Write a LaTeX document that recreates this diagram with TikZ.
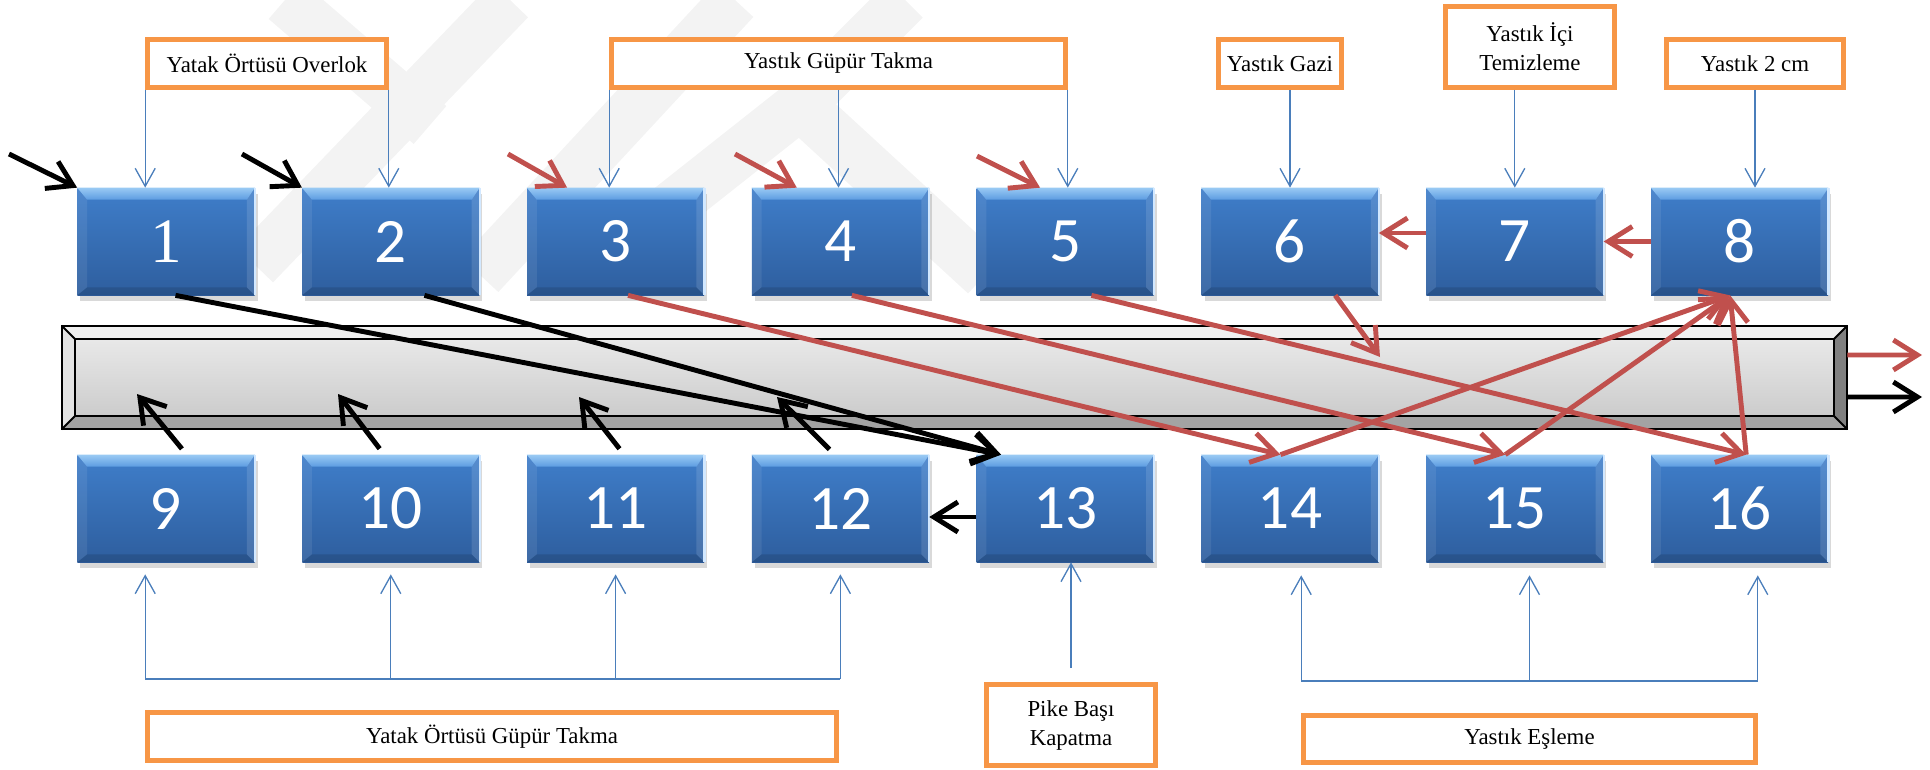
\documentclass[tikz,border=0pt]{standalone}
\usepackage{fontspec}
\setmainfont{Liberation Serif}
\newfontfamily\digitfont{Carlito}
\usetikzlibrary{arrows.meta, calc, shadows}

\definecolor{faceTop}{HTML}{3F7ECA}
\definecolor{faceBot}{HTML}{2E5E9E}
\definecolor{rimTop}{HTML}{9ACAF4}
\definecolor{rimMid}{HTML}{5C9CE1}
\definecolor{rimEdge}{HTML}{D2E8FF}
\definecolor{tagOrange}{HTML}{F79646}
\definecolor{feedBlue}{HTML}{4A7EBB}
\definecolor{flowRed}{HTML}{C0504D}
\definecolor{markGray}{HTML}{F3F3F3}

\tikzset{
  station/.style={minimum width=3.54cm, minimum height=2.14cm, inner sep=0pt,
    top color=faceTop, bottom color=faceBot, text=white,
    font=\digitfont\fontsize{36}{36}\selectfont,
    drop shadow={opacity=0.3, shadow xshift=0.6mm, shadow yshift=-1.2mm}},
  tagbox/.style={draw=tagOrange, line width=2.6pt, fill=white, inner sep=0pt,
    align=center, font=\fontsize{13}{16.5}\selectfont},
  barface/.style={minimum width=35.7cm, minimum height=2.06cm, inner sep=0pt,
    top color=black!7, bottom color=black!22},
  feed/.style={draw=feedBlue, line width=0.75pt, -{Straight Barb[length=3.6mm, width=4mm]}},
  feedbar/.style={draw=feedBlue, line width=1pt},
  blackflow/.style={draw=black, line width=2.8pt, -{Straight Barb[length=4.8mm, width=6mm]}},
  redflow/.style={blackflow, draw=flowRed},
  wmband/.style={draw=markGray, line width=10mm, line cap=butt}
}

\begin{document}
\begin{tikzpicture}[x=0.2mm, y=-0.2mm]
  % Units: 1 = one pixel of the 1930 x 770 sheet, y pointing down.
  \useasboundingbox (0,0) rectangle (1930,770);

  % faint watermark behind everything
  \begin{scope}
    \clip (0,0) rectangle (1930,770);
    \draw[wmband] (285,0) -- (430,125);
    \draw[wmband] (510,0) -- (255,265);
    \draw[wmband] (735,0) -- (480,275);
    \draw[wmband] (585,275) -- (800,105) -- (985,275);
    \draw[wmband] (905,0) -- (800,105);
  \end{scope}

  % line (bevelled bar)
  \node[barface] (bar) at (954.5,377.5) {};
  \fill[black!6] (bar.north west) -- (bar.north east) -- ([shift={(-13,13)}]bar.north east) -- ([shift={(13,13)}]bar.north west) -- cycle;
  \fill[black!11] (bar.north west) -- ([shift={(13,13)}]bar.north west) -- ([shift={(13,-13)}]bar.south west) -- (bar.south west) -- cycle;
  \fill[black!36] (bar.south west) -- ([shift={(13,-13)}]bar.south west) -- ([shift={(-13,-13)}]bar.south east) -- (bar.south east) -- cycle;
  \fill[gray] (bar.north east) -- (bar.south east) -- ([shift={(-13,-13)}]bar.south east) -- ([shift={(-13,13)}]bar.north east) -- cycle;
  \draw[line width=1.1pt] (bar.north west) rectangle (bar.south east);
  \draw[line width=1.1pt] ([shift={(13,13)}]bar.north west) rectangle ([shift={(-13,-13)}]bar.south east);
  \foreach \c/\sx/\sy in {north west/13/13, north east/-13/13, south west/13/-13, south east/-13/-13}
    \draw[line width=1.1pt] (bar.\c) -- ([shift={(\sx,\sy)}]bar.\c);

  % work stations
  \node[station, font=\rmfamily\fontsize{36}{36}\selectfont] (s1) at (166,241.5) {1};
  \foreach \i in {2,...,8}
    \node[station] (s\i) at ({166+(\i-1)*224.8},241.5) {\i};
  \foreach \i in {9,...,16}
    \node[station] (s\i) at ({166+(\i-9)*224.8},508.5) {\i};

  % bevel on every station
  \foreach \i in {1,...,16}{
    \shade[top color=rimTop, bottom color=rimMid] (s\i.north west) -- (s\i.north east) -- ([shift={(-8,12)}]s\i.north east) -- ([shift={(10,12)}]s\i.north west) -- cycle;
    \fill[white, opacity=0.08] (s\i.north west) -- ([shift={(10,12)}]s\i.north west) -- ([shift={(10,-8)}]s\i.south west) -- (s\i.south west) -- cycle;
    \fill[black, opacity=0.12] (s\i.south west) -- ([shift={(10,-8)}]s\i.south west) -- ([shift={(-8,-8)}]s\i.south east) -- (s\i.south east) -- cycle;
    \fill[white, opacity=0.12] (s\i.north east) -- ([shift={(-8,12)}]s\i.north east) -- ([shift={(-8,-8)}]s\i.south east) -- (s\i.south east) -- cycle;
    \draw[rimEdge, line width=1.2pt] (s\i.north east) -- (s\i.south east);
  }

  % operations feeding the stations
  \coordinate (bkL) at (0,679);
  \coordinate (bkR) at (0,681);

  \node[tagbox, minimum width=4.78cm, minimum height=0.96cm] (ovl) at (267,63.5) {Yatak Örtüsü Overlok};
  \node[tagbox, minimum width=9.08cm, minimum height=0.96cm] (ygt) at (838.5,63.5) {Yastık Güpür Takma};
  \node[tagbox, minimum width=2.46cm, minimum height=0.96cm] (gaz) at (1280,63.5) {Yastık Gazi};
  \node[tagbox, minimum width=3.38cm, minimum height=1.62cm] (ici) at (1530,47) {Yastık İçi\\Temizleme};
  \node[tagbox, minimum width=3.54cm, minimum height=0.96cm] (ycm) at (1755,63.5) {Yastık 2 cm};
  \node[tagbox, minimum width=13.78cm, minimum height=0.96cm] (yog) at (492,736.5) {Yatak Örtüsü Güpür Takma};
  \node[tagbox, minimum width=3.38cm, minimum height=1.62cm] (pbk) at (1071,725) {Pike Başı\\Kapatma};
  \node[tagbox, minimum width=9.04cm, minimum height=0.94cm] (esl) at (1529.5,739) {Yastık Eşleme};

  \draw[feed] (ovl.south west) -- (ovl.south west |- s1.north);
  \draw[feed] (ovl.south east) -- (ovl.south east |- s2.north);
  \draw[feed] (ygt.south west) -- (ygt.south west |- s3.north);
  \draw[feed] (ygt.south) -- (ygt.south |- s4.north);
  \draw[feed] (ygt.south east) -- (ygt.south east |- s5.north);
  \draw[feed] (s6.north |- gaz.south) -- (s6.north);
  \draw[feed] (s7.north |- ici.south) -- (s7.north);
  \draw[feed] (ycm.south) -- (ycm.south |- s8.north);

  \draw[feedbar] (yog.north west |- bkL) -- (s12.south |- bkL);
  \draw[feed, shorten >=2.4mm] (yog.north west |- bkL) -- (yog.north west |- s9.south);
  \foreach \i in {10,11,12}
    \draw[feed, shorten >=2.4mm] (s\i.south |- bkL) -- (s\i.south);
  \draw[feed] ($(pbk.north)+(0,-14)$) -- (pbk.north |- s13.south);
  \draw[feedbar] (esl.north west |- bkR) -- (esl.north east |- bkR);
  \foreach \a/\n in {north west/14, north/15, north east/16}
    \draw[feed, shorten >=2.6mm] (esl.\a |- bkR) -- (esl.\a |- s\n.south);

  % material flow
  \coordinate (in1) at (9,154);
  \coordinate (in2) at (242,154);
  \coordinate (in3) at (508,154);
  \coordinate (in4) at (735,154);
  \coordinate (in5) at (977,156);
  \draw[blackflow] (in1) -- (s1.north west);
  \draw[blackflow] (in2) -- (s2.north west);
  \draw[redflow] (in3) -- (s3.132);
  \draw[redflow] (in4) -- (s4.129);
  \draw[redflow] (in5) -- (s5.115);

  \draw[redflow] ([yshift=1.7mm]s7.west) -- ([yshift=1.7mm]s6.east);
  \draw[redflow] (s8.west) -- (s7.east);
  \draw[blackflow] ([yshift=-1.7mm]s13.west) -- ([yshift=-1.7mm]s12.east);

  \draw[blackflow] (s1.280) -- (s13.140);
  \draw[blackflow] (s2.302) -- (s13.140);

  \coordinate (up9) at (137,394);
  \coordinate (up10) at (338,394);
  \coordinate (up11) at (579,397);
  \coordinate (up12) at (777,397);
  \draw[blackflow, shorten <=1.5mm] (s9.69) -- (up9);
  \draw[blackflow, shorten <=1.5mm] (s10.97) -- (up10);
  \draw[blackflow, shorten <=1.5mm] (s11.81) -- (up11);
  \draw[blackflow, shorten <=1.5mm] (s12.96) -- (up12);

  \draw[redflow] (s3.283) -- (s14.100);
  \draw[redflow] (s4.282) -- (s15.100);
  \draw[redflow] (s5.296) -- (s16.83);
  \coordinate (dn6) at (1380,357);
  \draw[redflow] (s6.310) -- (dn6);
  \draw[redflow] (s14.100) -- (s8.260);
  \draw[redflow] (s15.100) -- (s8.260);
  \draw[redflow] (s16.83) -- (s8.260);

  \coordinate (outR) at (1922,355);
  \coordinate (outB) at (1922,397);
  \draw[redflow] ([yshift=4.5mm]bar.east) -- (outR);
  \draw[blackflow] ([yshift=-3.9mm]bar.east) -- (outB);
\end{tikzpicture}
\end{document}
